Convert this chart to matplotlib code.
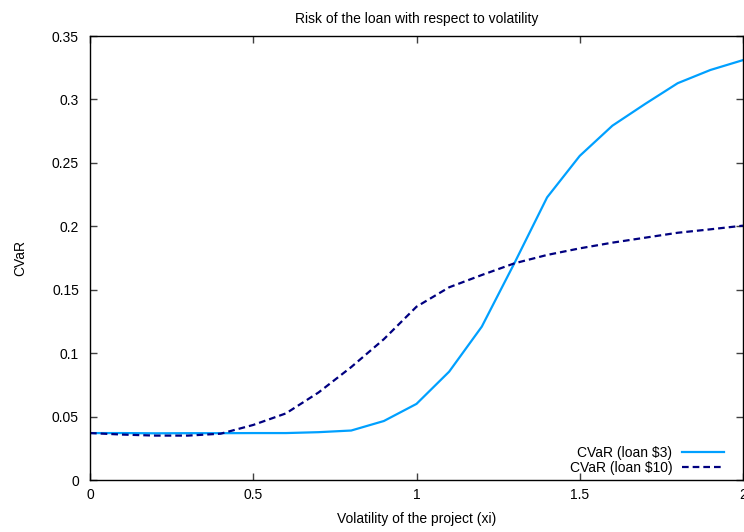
import matplotlib
matplotlib.use("Agg")
import matplotlib.pyplot as plt

plt.rcParams['font.family'] = ['Liberation Sans', 'DejaVu Sans']

volatility = [0.0, 0.1, 0.2, 0.3, 0.4, 0.5, 0.6, 0.7, 0.8, 0.9, 1.0,
              1.1, 1.2, 1.3, 1.4, 1.5, 1.6, 1.7, 1.8, 1.9, 2.0]
cvar_loan3 = [0.037, 0.037, 0.0368, 0.0369, 0.0369, 0.037, 0.037, 0.0377, 0.039, 0.0465, 0.060,
              0.0854, 0.1209, 0.171, 0.2228, 0.2555, 0.2793, 0.2964, 0.3128, 0.3232, 0.331]
cvar_loan10 = [0.037, 0.0358, 0.035, 0.035, 0.0365, 0.0434, 0.0525, 0.069, 0.089, 0.111, 0.1366,
               0.1519, 0.1616, 0.1708, 0.1774, 0.1826, 0.1871, 0.1910, 0.1949, 0.1976, 0.2005]

xticks = [0, 0.5, 1, 1.5, 2]
xtick_labels = ['0', '0.5', '1', '1.5', '2']
yticks = [0, 0.05, 0.1, 0.15, 0.2, 0.25, 0.3, 0.35]
ytick_labels = ['0', '0.05', '0.1', '0.15', '0.2', '0.25', '0.3', '0.35']

fig = plt.figure(figsize=(7.44, 5.32), dpi=100)
ax = fig.add_axes([90 / 744, 52 / 532, 653 / 744, 444 / 532])

ax.plot(volatility, cvar_loan3, color='#00a0ff', lw=1.6, label='CVaR (loan $3)')
ax.plot(volatility, cvar_loan10, color='#000080', lw=1.6, dashes=(3.0, 1.8),
        label='CVaR (loan $10)')

ax.set_xlim(0, 2)
ax.set_ylim(0, 0.35)
ax.set_xticks(xticks)
ax.set_xticklabels(xtick_labels)
ax.set_yticks(yticks)
ax.set_yticklabels(ytick_labels)
ax.tick_params(direction='in', top=True, right=True, length=5, width=1,
               labelsize=10, color='#404040')
ax.tick_params(axis='x', pad=6)
ax.tick_params(axis='y', pad=8)
for s in ax.spines.values():
    s.set_linewidth(1)
    s.set_color('black')

ax.set_title('Risk of the loan with respect to volatility', fontsize=10, pad=9)
ax.set_xlabel('Volatility of the project (xi)', fontsize=10, labelpad=7)
ax.set_ylabel('CVaR', fontsize=10, labelpad=18)

leg = ax.legend(loc='lower right', frameon=False, markerfirst=False, fontsize=10,
                handlelength=3.0, handletextpad=0.7, labelspacing=0.1,
                borderaxespad=0.0, bbox_to_anchor=(0.979, -0.002))
for t in leg.get_texts():
    t.set_ha('right')

fig.savefig('out.png', dpi=100)
